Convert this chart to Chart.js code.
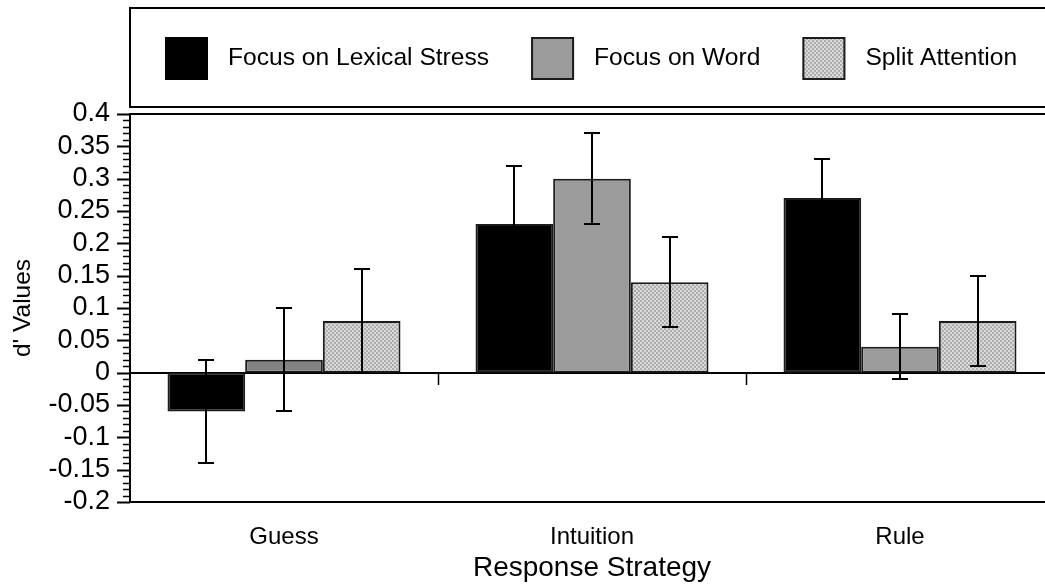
<!DOCTYPE html>
<html>
<head>
<meta charset="utf-8">
<script src="https://cdn.jsdelivr.net/npm/chart.js@4/dist/chart.umd.min.js"></script>
<style>
  html, body { margin: 0; padding: 0; background: #fff; overflow: hidden; }
  #wrap { width: 1056px; height: 585px; }
</style>
</head>
<body>
<div id="wrap"><canvas id="c" width="1056" height="585"></canvas></div>
<script>
// d' by response strategy and attention condition
const categories = ['Guess', 'Intuition', 'Rule'];
const seriesNames = ['Focus on Lexical Stress', 'Focus on Word', 'Split Attention'];
const lexicalStress = [-0.06, 0.23, 0.27];
const focusWord = [0.02, 0.30, 0.04];
const splitAttention = [0.08, 0.14, 0.08];
// half-widths of the error bars
const lexicalStressErr = [0.08, 0.09, 0.06];
const focusWordErr = [0.08, 0.07, 0.05];
const splitAttentionErr = [0.08, 0.07, 0.07];
// y axis range and tick spacing
const yMin = -0.2, yMax = 0.4, yMajorStep = 0.05, yMinorStep = 0.01;

const FONT = "'Liberation Sans', Arial, Helvetica, sans-serif";
Chart.defaults.font.family = FONT;
Chart.defaults.color = '#000';

const canvas = document.getElementById('c');
const ctx = canvas.getContext('2d');

// fine checkerboard fill for the split-attention bars
function checkerPattern() {
  const p = document.createElement('canvas');
  p.width = 4; p.height = 4;
  const g = p.getContext('2d');
  g.fillStyle = '#dadada'; g.fillRect(0, 0, 4, 4);
  g.fillStyle = '#adadad'; g.fillRect(0, 0, 2, 2); g.fillRect(2, 2, 2, 2);
  return ctx.createPattern(p, 'repeat');
}
const checker = checkerPattern();

const legendSwatches = ['#000000', '#9b9b9b', checker];
const legendOutlined = [false, true, true];

const framePlugin = {
  id: 'frame',
  beforeDatasetsDraw(chart) {
    const { ctx, chartArea: a, scales: { x, y } } = chart;
    ctx.save();
    ctx.strokeStyle = '#000';
    // zero line
    const y0 = Math.round(y.getPixelForValue(0));
    ctx.lineWidth = 2;
    ctx.beginPath(); ctx.moveTo(a.left, y0); ctx.lineTo(a.right, y0); ctx.stroke();
    // short marks between categories, hanging from the zero line
    ctx.lineWidth = 1.5;
    for (let i = 0; i < categories.length - 1; i++) {
      const xs = Math.round((x.getPixelForValue(i) + x.getPixelForValue(i + 1)) / 2) + 0.5;
      ctx.beginPath(); ctx.moveTo(xs, y0); ctx.lineTo(xs, y0 + 12); ctx.stroke();
    }
    ctx.restore();
  },
  afterDatasetsDraw(chart) {
    const { ctx, scales: { y } } = chart;
    ctx.save();
    ctx.strokeStyle = '#000';
    ctx.lineWidth = 2;
    chart.data.datasets.forEach((ds, i) => {
      const meta = chart.getDatasetMeta(i);
      meta.data.forEach((bar, j) => {
        const v = ds.data[j], e = ds.err[j];
        const xc = Math.round(bar.x);
        const yt = Math.round(y.getPixelForValue(v + e));
        const yb = Math.round(y.getPixelForValue(v - e));
        ctx.beginPath();
        ctx.moveTo(xc, yt); ctx.lineTo(xc, yb);
        ctx.moveTo(xc - 8, yt); ctx.lineTo(xc + 8, yt);
        ctx.moveTo(xc - 8, yb); ctx.lineTo(xc + 8, yb);
        ctx.stroke();
      });
    });
    ctx.restore();
  },
  afterDraw(chart) {
    const { ctx, chartArea: a, scales: { y } } = chart;
    ctx.save();
    ctx.strokeStyle = '#000';
    // top edge of the plot box
    ctx.lineWidth = 2;
    ctx.beginPath(); ctx.moveTo(a.left - 1, a.top); ctx.lineTo(a.right, a.top); ctx.stroke();
    // y axis tick marks: long on labelled values, short in between
    const n = Math.round((yMax - yMin) / yMinorStep);
    const every = Math.round(yMajorStep / yMinorStep);
    for (let i = 0; i <= n; i++) {
      const v = yMin + i * yMinorStep;
      const py = Math.round(y.getPixelForValue(v)) + 0.5;
      const len = (i % every === 0) ? 13 : 7;
      ctx.lineWidth = (i % every === 0) ? 2 : 1.5;
      ctx.beginPath(); ctx.moveTo(a.left - len, py); ctx.lineTo(a.left, py); ctx.stroke();
    }
    // legend box
    const boxTop = 8, boxBottom = 107;
    ctx.lineWidth = 2;
    ctx.strokeRect(a.left, boxTop, a.right - a.left + 10, boxBottom - boxTop);
    // legend entries
    ctx.font = '24.6px ' + FONT;
    ctx.textBaseline = 'middle';
    ctx.textAlign = 'left';
    let lx = 165;
    const sw = 43, sy = 37, cy = sy + sw / 2;
    chart.data.datasets.forEach((ds, i) => {
      ctx.fillStyle = legendSwatches[i];
      ctx.fillRect(lx, sy, sw, sw);
      if (legendOutlined[i]) {
        ctx.strokeStyle = '#1c1c1c';
        ctx.lineWidth = 2;
        ctx.strokeRect(lx + 1, sy + 1, sw - 2, sw - 2);
      }
      ctx.fillStyle = '#000';
      const tx = lx + sw + 20;
      ctx.fillText(ds.label, tx, cy);
      lx = tx + ctx.measureText(ds.label).width + 42;
    });
    ctx.restore();
  }
};

new Chart(ctx, {
  type: 'bar',
  data: {
    labels: categories,
    datasets: [
      { label: seriesNames[0], data: lexicalStress, err: lexicalStressErr,
        backgroundColor: '#000000', borderColor: '#1c1c1c' },
      { label: seriesNames[1], data: focusWord, err: focusWordErr,
        backgroundColor: ['#838383', '#9b9b9b', '#9b9b9b'], borderColor: '#1c1c1c' },
      { label: seriesNames[2], data: splitAttention, err: splitAttentionErr,
        backgroundColor: checker, borderColor: '#1c1c1c' }
    ]
  },
  options: {
    responsive: false,
    animation: false,
    devicePixelRatio: 1,
    layout: { padding: { top: 114, right: 2, left: 0, bottom: 0 } },
    datasets: {
      bar: { borderWidth: 2, borderSkipped: false, categoryPercentage: 0.7565, barPercentage: 1 }
    },
    plugins: { legend: { display: false }, tooltip: { enabled: false } },
    scales: {
      x: {
        afterFit(s) { s.height = 83; },
        grid: { display: false, drawTicks: false },
        border: { display: true, color: '#000', width: 2 },
        ticks: { padding: 21, color: '#000', font: { size: 24 } },
        title: { display: true, text: 'Response Strategy', color: '#000',
                 font: { size: 28 }, padding: { top: 0, bottom: 0 } }
      },
      y: {
        min: yMin, max: yMax,
        afterFit(s) { s.width = 130; },
        grid: { display: false, drawTicks: false },
        border: { display: true, color: '#000', width: 2 },
        ticks: {
          stepSize: yMajorStep, autoSkip: false, maxTicksLimit: 40,
          padding: 20, color: '#000', font: { size: 27 },
          callback: (v) => String(Math.round(v * 100) / 100)
        },
        title: { display: true, text: "d' Values", color: '#000',
                 font: { size: 24.5 }, padding: { top: 9, bottom: 0 } }
      }
    }
  },
  plugins: [framePlugin]
});
</script>
</body>
</html>
